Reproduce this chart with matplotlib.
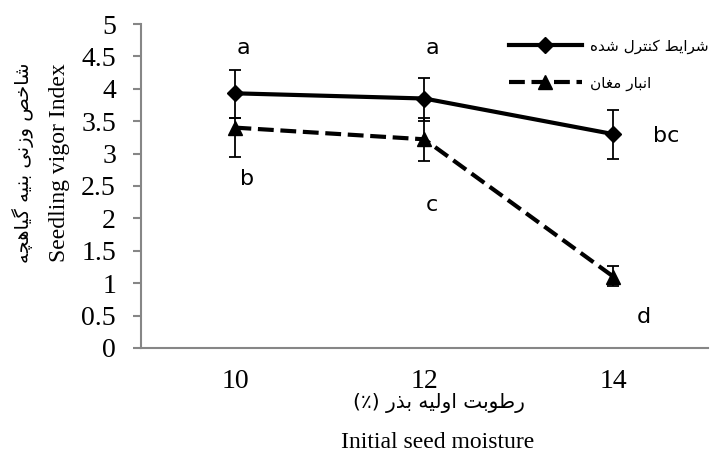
import numpy as np
import matplotlib
matplotlib.use('Agg')
import matplotlib.pyplot as plt

# data
moisture = ['10', '12', '14']
control = [3.93, 3.85, 3.30]
control_lo = [3.55, 3.51, 2.91]
control_hi = [4.29, 4.16, 3.68]
moghan = [3.40, 3.22, 1.10]
moghan_lo = [2.95, 2.89, 0.95]
moghan_hi = [3.55, 3.55, 1.27]
letters = ['a', 'a', 'bc', 'b', 'c', 'd']
yticks = [0, 0.5, 1, 1.5, 2, 2.5, 3, 3.5, 4, 4.5, 5]
ytick_labels = ['0', '0.5', '1', '1.5', '2', '2.5', '3', '3.5', '4', '4.5', '5']

label_control = 'شرایط کنترل شده'
label_moghan = 'انبار مغان'
ylabel_fa = 'شاخص وزنی بنیه گیاهچه'
ylabel_en = 'Seedling vigor Index'
xlabel_fa = 'رطوبت اولیه بذر (٪)'
xlabel_en = 'Initial seed moisture'

# simple Arabic-script shaping (matplotlib has no complex text layout)
FORMS = {
    'ا': ('\uFE8D', '\uFE8E', None, None),
    'ب': ('\uFE8F', '\uFE90', '\uFE91', '\uFE92'),
    'ت': ('\uFE95', '\uFE96', '\uFE97', '\uFE98'),
    'خ': ('\uFEA5', '\uFEA6', '\uFEA7', '\uFEA8'),
    'د': ('\uFEA9', '\uFEAA', None, None),
    'ذ': ('\uFEAB', '\uFEAC', None, None),
    'ر': ('\uFEAD', '\uFEAE', None, None),
    'ز': ('\uFEAF', '\uFEB0', None, None),
    'ش': ('\uFEB5', '\uFEB6', '\uFEB7', '\uFEB8'),
    'ص': ('\uFEB9', '\uFEBA', '\uFEBB', '\uFEBC'),
    'ط': ('\uFEC1', '\uFEC2', '\uFEC3', '\uFEC4'),
    'غ': ('\uFECD', '\uFECE', '\uFECF', '\uFED0'),
    'ل': ('\uFEDD', '\uFEDE', '\uFEDF', '\uFEE0'),
    'م': ('\uFEE1', '\uFEE2', '\uFEE3', '\uFEE4'),
    'ن': ('\uFEE5', '\uFEE6', '\uFEE7', '\uFEE8'),
    'ه': ('\uFEE9', '\uFEEA', '\uFEEB', '\uFEEC'),
    'و': ('\uFEED', '\uFEEE', None, None),
    'ی': ('\uFBFC', '\uFBFD', '\uFBFE', '\uFBFF'),
    'ک': ('\uFB8E', '\uFB8F', '\uFB90', '\uFB91'),
    'گ': ('\uFB92', '\uFB93', '\uFB94', '\uFB95'),
    'چ': ('\uFB7A', '\uFB7B', '\uFB7C', '\uFB7D'),
}


def shape(text):
    out = []
    for i, ch in enumerate(text):
        if ch not in FORMS:
            out.append(ch)
            continue
        prev = text[i - 1] if i > 0 else ''
        nxt = text[i + 1] if i < len(text) - 1 else ''
        jp = prev in FORMS and FORMS[prev][2] is not None
        jn = FORMS[ch][2] is not None and nxt in FORMS
        iso, fin, ini, med = FORMS[ch]
        if jp and jn:
            out.append(med)
        elif jp:
            out.append(fin)
        elif jn:
            out.append(ini)
        else:
            out.append(iso)
    mirror = {'(': ')', ')': '('}
    return ''.join(mirror.get(c, c) for c in reversed(out))


plt.rcParams['font.family'] = ['Liberation Serif', 'DejaVu Sans']
FA = ['DejaVu Sans']

fig = plt.figure(figsize=(7.23, 4.53), dpi=100)
ax = fig.add_axes([0.195, 0.232, 0.784, 0.715])

x = np.arange(len(moisture))
c = np.array(control)
m = np.array(moghan)

ax.errorbar(x, c, yerr=[c - np.array(control_lo), np.array(control_hi) - c],
            fmt='none', ecolor='black', elinewidth=1.3, capsize=4.5, capthick=1.3, zorder=2)
ax.errorbar(x, m, yerr=[m - np.array(moghan_lo), np.array(moghan_hi) - m],
            fmt='none', ecolor='black', elinewidth=1.3, capsize=4.5, capthick=1.3, zorder=2)

ax.plot(x, c, color='black', lw=3.0, marker='D', ms=8.5, zorder=3,
        label=shape(label_control))
ax.plot(x, m, color='black', lw=3.0, marker='^', ms=9.5, zorder=3,
        dashes=(3.8, 1.6), label=shape(label_moghan))

# significance letters
letter_pos = [(0.04, 4.63), (1.04, 4.63), (2.28, 3.27), (0.06, 2.61), (1.04, 2.21), (2.16, 0.47)]
for s, (lx, ly) in zip(letters, letter_pos):
    ax.text(lx, ly, s, ha='center', va='center', fontsize=16, family='DejaVu Sans')

ax.set_xlim(-0.5, 2.5)
ax.set_ylim(0, 5)
ax.set_yticks(yticks)
ax.set_yticklabels(ytick_labels)
ax.set_xticks(x)
ax.set_xticklabels(moisture)
ax.tick_params(axis='y', length=6, width=1.5, color='#868686', labelsize=20, pad=12)
ax.tick_params(axis='x', length=0, labelsize=20, pad=15)
for side in ['top', 'right']:
    ax.spines[side].set_visible(False)
for side in ['left', 'bottom']:
    ax.spines[side].set_color('#868686')
    ax.spines[side].set_linewidth(1.5)

leg = ax.legend(loc='upper right', bbox_to_anchor=(1.025, 0.997), frameon=False,
                handlelength=4.8, labelspacing=1.4, handletextpad=0.5,
                prop={'family': FA, 'size': 11})

fig.text(0.032, 0.64, shape(ylabel_fa), rotation=90, ha='center', va='center',
         fontsize=14, family=FA)
fig.text(0.082, 0.64, ylabel_en, rotation=90, ha='center', va='center', fontsize=17)
fig.text(0.607, 0.11, shape(xlabel_fa), ha='center', va='center', fontsize=14.5, family=FA)
fig.text(0.605, 0.023, xlabel_en, ha='center', va='center', fontsize=17)

fig.savefig('out.png', dpi=100)
